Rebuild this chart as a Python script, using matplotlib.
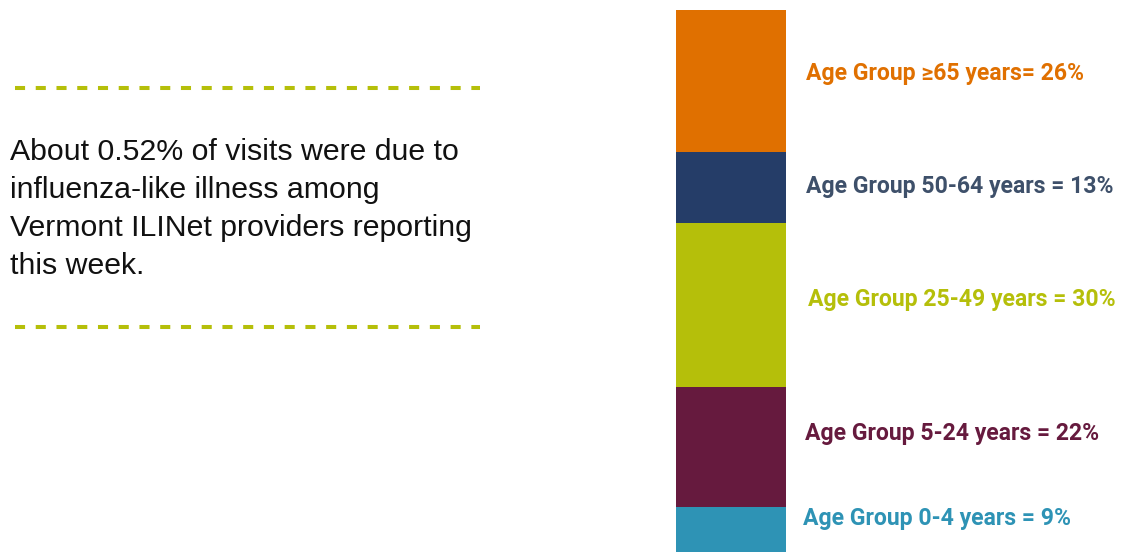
import matplotlib.pyplot as plt

# age groups, top to bottom of the stacked bar
groups = ["≥65", "50-64", "25-49", "5-24", "0-4"]
shares = [26, 13, 30, 22, 9]
labels = ["Age Group ≥65 years= 26%",
          "Age Group 50-64 years = 13%",
          "Age Group 25-49 years = 30%",
          "Age Group 5-24 years = 22%",
          "Age Group 0-4 years = 9%"]
bar_colors = ["#E07000", "#253D68", "#B5BF0A", "#661A3E", "#2E93B5"]
text_colors = ["#E07000", "#3E506A", "#B5BF0A", "#661A3E", "#2E93B5"]
# label offset from segment centre (in % units), labels sit a bit high
label_shift = [1.3, 0.2, 0.9, 2.5, 2.4]
label_x = [806, 806, 808, 805, 803]

note = ("About 0.52% of visits were due to\n"
        "influenza-like illness among\n"
        "Vermont ILINet providers reporting\n"
        "this week.")

W, H = 1121, 552
fig = plt.figure(figsize=(W / 100, H / 100), dpi=100)

# stacked bar, bar spans pixels y 10..556 (bottom slightly cut)
ax = fig.add_axes([676 / W, (H - 556) / H, 110 / W, 546 / H])
bottom = 100
centres = []
for s, c in zip(shares, bar_colors):
    bottom -= s
    ax.bar(0, s, bottom=bottom, width=1, color=c, linewidth=0)
    centres.append(bottom + s / 2)
ax.set_xlim(-0.5, 0.5)
ax.set_ylim(0, 100)
ax.axis("off")

for lab, yc, dy, xp, col in zip(labels, centres, label_shift, label_x, text_colors):
    fy = ax.transData.transform((0, yc + dy))[1]
    fig.text(xp / W, fy / H, lab, color=col, fontsize=16.6, fontweight="bold",
             family=["Roboto", "DejaVu Sans"], va="center", ha="left")

# left note with dashed rules
for yp in [88, 327]:
    fig.add_artist(plt.Line2D([15 / W, 480 / W], [1 - yp / H, 1 - yp / H],
                              color="#B5BF0A", lw=2.9, linestyle=(0, (2.5, 2.65))))
fig.text(10 / W, 1 - 138 / H, note, fontsize=21.8, color="#111111",
         family="Liberation Sans", va="top", ha="left", linespacing=1.45)

fig.savefig("out.png", dpi=100)
